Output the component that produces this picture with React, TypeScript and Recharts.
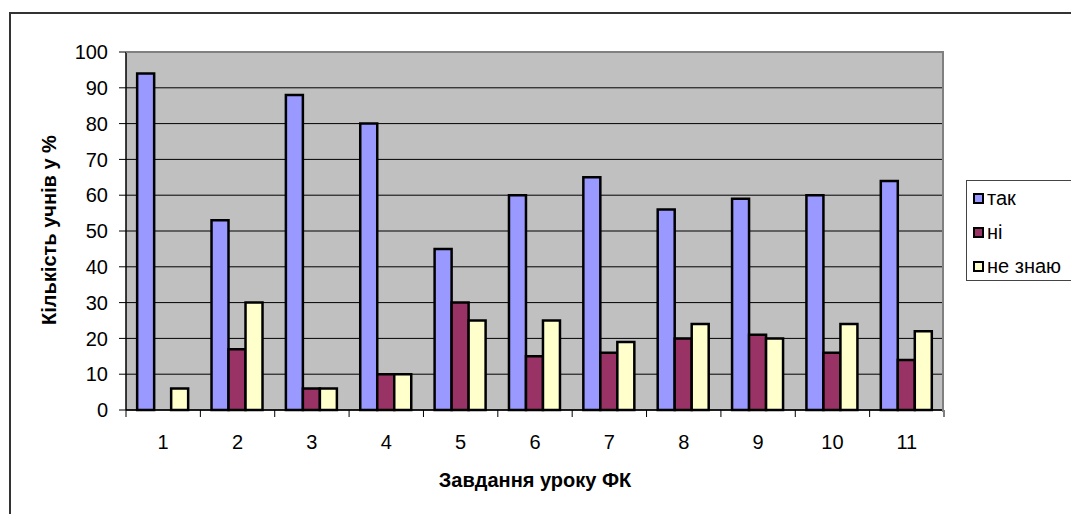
import React from "react";
import { BarChart, Bar, XAxis, YAxis, CartesianGrid } from "recharts";

const categories = ["1", "2", "3", "4", "5", "6", "7", "8", "9", "10", "11"];
const takValues = [94, 53, 88, 80, 45, 60, 65, 56, 59, 60, 64];
const niValues = [0, 17, 6, 10, 30, 15, 16, 20, 21, 16, 14];
const neZnayuValues = [6, 30, 6, 10, 25, 25, 19, 24, 20, 24, 22];
const yTicks = [0, 10, 20, 30, 40, 50, 60, 70, 80, 90, 100];

const seriesNames = ["так", "ні", "не знаю"];
const seriesKeys = ["tak", "ni", "neZnayu"];
const seriesColors = ["#9999FF", "#993366", "#FFFFCC"];

const data = categories.map((name, i) => ({
  name,
  tak: takValues[i],
  ni: niValues[i],
  neZnayu: neZnayuValues[i],
}));

const FONT = "'Liberation Sans', Arial, sans-serif";
const W = 1071;
const H = 506;

const CategoryTick = (props: any) => {
  const { x, y, payload, index } = props;
  const half = payload && typeof payload.offset === "number" ? payload.offset : 0;
  const isLast = index === categories.length - 1;
  return (
    <g>
      <line x1={x - half} x2={x - half} y1={y} y2={y + 7} stroke="#000" strokeWidth={1} />
      {isLast && (
        <line x1={x + half} x2={x + half} y1={y} y2={y + 7} stroke="#000" strokeWidth={1} />
      )}
      <text
        x={x}
        y={y + 39}
        textAnchor="middle"
        fill="#000"
        fontSize={20}
        fontFamily={FONT}
      >
        {payload.value}
      </text>
    </g>
  );
};

export default function App() {
  return (
    <div
      style={{
        position: "relative",
        width: W,
        height: H,
        overflow: "hidden",
        fontFamily: FONT,
        background: "#fff",
      }}
    >
      <div
        style={{
          position: "absolute",
          left: 1,
          top: 4,
          width: W + 20,
          height: H + 20,
          borderTop: "2px solid #333",
          borderLeft: "2px solid #333",
        }}
      />
      <div style={{ position: "absolute", left: 0, top: 0 }}>
        <BarChart
          width={W}
          height={H}
          data={data}
          margin={{ top: 44, right: 135, bottom: 64, left: 0 }}
          barGap={0}
          barCategoryGap="15%"
        >
          <CartesianGrid
            vertical={false}
            fill="#C0C0C0"
            fillOpacity={1}
            stroke="#000"
            strokeWidth={1}
          />
          <XAxis
            dataKey="name"
            height={40}
            tickLine={false}
            axisLine={{ stroke: "#000", strokeWidth: 1.5 }}
            tickSize={0}
            tickMargin={0}
            interval={0}
            tick={CategoryTick}
          />
          <YAxis
            width={118}
            domain={[0, 100]}
            ticks={yTicks}
            interval={0}
            tickSize={7}
            tickMargin={11}
            tickLine={{ stroke: "#000" }}
            axisLine={{ stroke: "#000", strokeWidth: 1.5 }}
            tick={{ fill: "#000", fontSize: 20, fontFamily: FONT }}
          />
          {seriesKeys.map((k, i) => (
            <Bar
              key={k}
              dataKey={k}
              name={seriesNames[i]}
              fill={seriesColors[i]}
              stroke="#000"
              strokeWidth={2.5}
              isAnimationActive={false}
            />
          ))}
        </BarChart>
      </div>
      {/* plot area border (top, right) */}
      <div
        style={{
          position: "absolute",
          left: 118,
          top: 43,
          width: 936 - 118 - 2,
          height: 402 - 43,
          borderTop: "2px solid #808080",
          borderRight: "2px solid #808080",
          pointerEvents: "none",
        }}
      />
      {/* y axis title */}
      <div
        style={{
          position: "absolute",
          left: 41,
          top: 222,
          width: 0,
          height: 0,
        }}
      >
        <div
          style={{
            position: "absolute",
            left: 0,
            top: 0,
            transform: "translate(-50%, -50%) rotate(-90deg)",
            whiteSpace: "nowrap",
            fontWeight: "bold",
            fontSize: 20,
            color: "#000",
          }}
        >
          Кількість учнів у %
        </div>
      </div>
      {/* x axis title */}
      <div
        style={{
          position: "absolute",
          left: 527,
          top: 472,
          transform: "translate(-50%, -50%)",
          whiteSpace: "nowrap",
          fontWeight: "bold",
          fontSize: 20,
          color: "#000",
        }}
      >
        Завдання уроку ФК
      </div>
      {/* legend */}
      <div
        style={{
          position: "absolute",
          left: 958,
          top: 172,
          width: 200,
          height: 101,
          border: "1px solid #444",
          boxSizing: "border-box",
        }}
      >
        {seriesNames.map((n, i) => (
          <div
            key={n}
            style={{
              position: "absolute",
              left: 6,
              top: 17 + i * 34,
              transform: "translateY(-50%)",
              display: "flex",
              alignItems: "center",
              whiteSpace: "nowrap",
            }}
          >
            <div
              style={{
                width: 7,
                height: 7,
                border: "2px solid #000",
                background: seriesColors[i],
                marginRight: 3,
              }}
            />
            <span style={{ fontSize: 20, color: "#000", lineHeight: "22px" }}>{n}</span>
          </div>
        ))}
      </div>
    </div>
  );
}
